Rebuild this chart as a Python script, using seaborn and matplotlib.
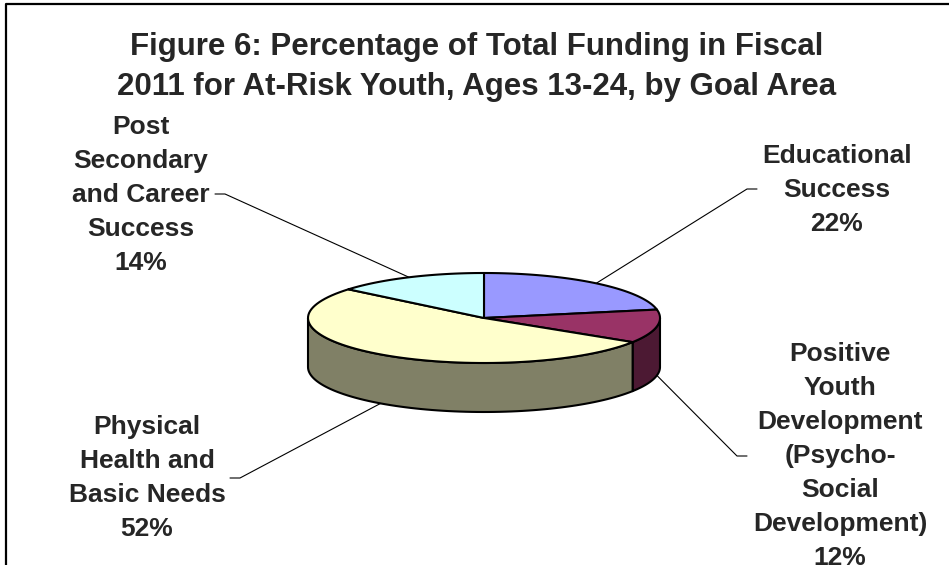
"""
Figure 6 - part du financement 2011 par domaine (camembert 3D façon Excel)
"""

import numpy as np
import pandas as pd
import matplotlib
matplotlib.use("Agg")
import matplotlib.pyplot as plt
from matplotlib.patches import Polygon
import seaborn as sns

# Données
goal_areas = [
    "Educational\nSuccess",
    "Positive\nYouth\nDevelopment\n(Psycho-\nSocial\nDevelopment)",
    "Physical\nHealth and\nBasic Needs",
    "Post\nSecondary\nand Career\nSuccess",
]
shares = [22, 12, 52, 14]
top_colors = ["#9999FF", "#993366", "#FFFFCC", "#CCFFFF"]
side_colors = ["#4C4C80", "#4C1933", "#808066", "#668080"]
title = ("Figure 6: Percentage of Total Funding in Fiscal\n"
         "2011 for At-Risk Youth, Ages 13-24, by Goal Area")

# Style
sns.set_theme(style="white")
plt.rcParams["font.family"] = ["Liberation Sans", "DejaVu Sans"]

df = pd.DataFrame({"area": goal_areas, "share": shares,
                   "top": sns.color_palette(top_colors),
                   "side": sns.color_palette(side_colors)})

# géométrie du camembert (en pixels)
CX, CY, A, B, DEPTH = 484, 318, 176, 45, 49
LABEL_POS = [(837, 190), (840, 456), (147, 478), (141, 195)]
ELBOW = [(747, 189), (737, 456), (240, 478), (225, 194)]


def ellipse_pts(t1, t2, dy=0, n=80):
    t = np.radians(np.linspace(t1, t2, n))
    return np.column_stack([CX + A * np.cos(t), CY - B * np.sin(t) + dy])


fig = plt.figure(figsize=(9.49, 5.65), dpi=100)
ax = fig.add_axes([0, 0, 1, 1])
ax.set_xlim(0, 949)
ax.set_ylim(565, 0)
ax.axis("off")

# cadre
ax.plot([6, 6, 949], [565, 4, 4], color="black", lw=1.6, solid_capstyle="butt")

# angles (départ à 12h, sens horaire)
cum = np.concatenate([[0], np.cumsum(df["share"])]) / df["share"].sum()
starts = 90 - 360 * cum[:-1]
ends = 90 - 360 * cum[1:]

# faces latérales visibles (demi-ellipse avant)
for s, e, c in zip(starts, ends, df["side"]):
    # partie de l'arc comprise dans [-180, 0] (modulo 360)
    for k in (0, -360, 360):
        lo, hi = max(e + k, -180), min(s + k, 0)
        if hi > lo:
            top = ellipse_pts(hi, lo)
            bot = ellipse_pts(lo, hi, dy=DEPTH)
            ax.add_patch(Polygon(np.vstack([top, bot]), closed=True,
                                 facecolor=c, edgecolor="black", lw=1.5,
                                 joinstyle="round"))

# faces supérieures
for s, e, c in zip(starts, ends, df["top"]):
    arc = ellipse_pts(s, e)
    pts = np.vstack([[CX, CY], arc])
    ax.add_patch(Polygon(pts, closed=True, facecolor=c, edgecolor="black",
                         lw=1.5, joinstyle="round"))

# étiquettes et lignes de rappel
for (area, share), s, e, (lx, ly), (ex, ey) in zip(
        df[["area", "share"]].values, starts, ends, LABEL_POS, ELBOW):
    mid = np.radians((s + e) / 2)
    px, py = CX + A * np.cos(mid), CY - B * np.sin(mid)
    if np.sin(mid) < 0:
        py += DEPTH
    side = 1 if lx > ex else -1
    ax.plot([px, ex, ex + side * 10], [py, ey, ey], color="black", lw=0.8)
    ax.text(lx, ly, f"{area}\n{share}%", ha="center", va="center",
            fontsize=19, fontweight="bold", linespacing=1.52)

ax.text(477, 67, title, ha="center", va="center", fontsize=22.5,
        fontweight="bold", linespacing=1.45)

fig.savefig("out.png", dpi=100)
plt.close(fig)
